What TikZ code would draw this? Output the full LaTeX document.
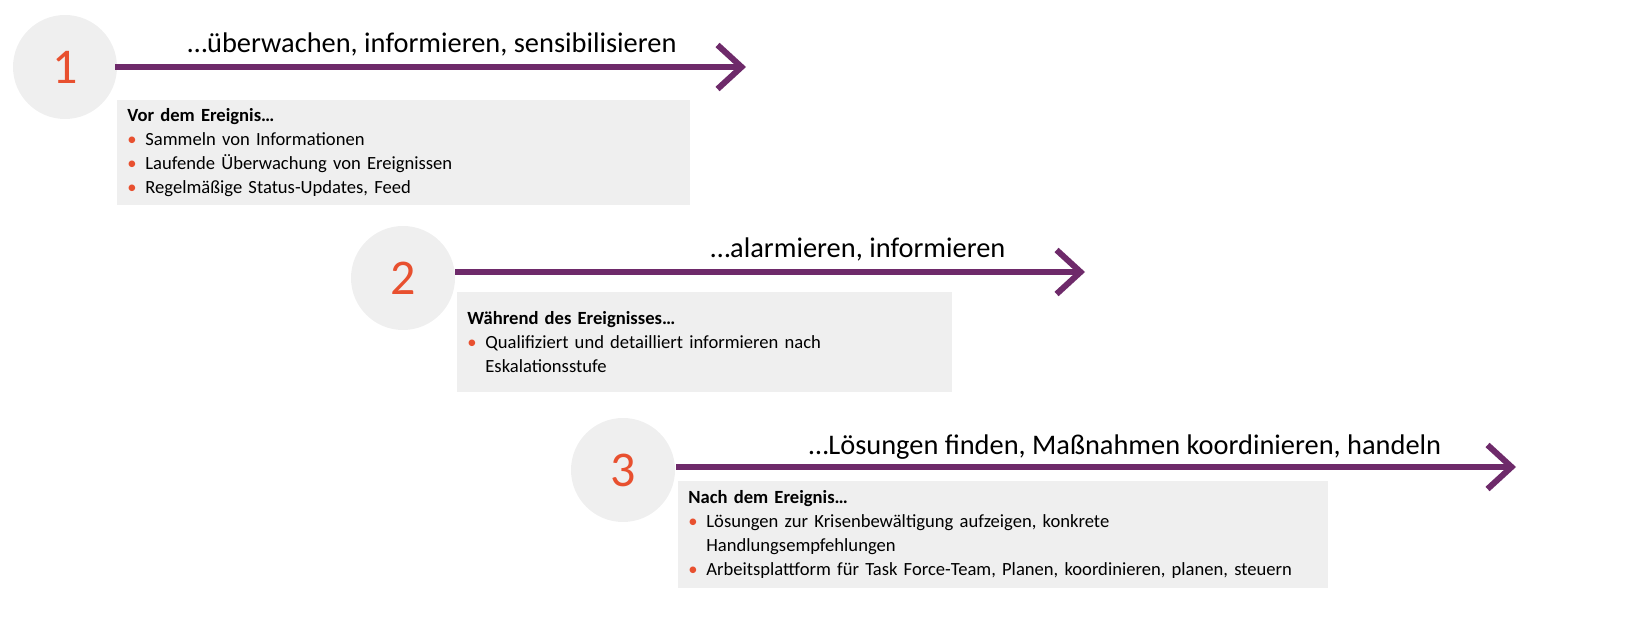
\documentclass[tikz,border=0pt]{standalone}
\usepackage{fontspec}
\setmainfont{Carlito}
\usetikzlibrary{arrows.meta,positioning}
\definecolor{stagepurple}{HTML}{6E2A6A}
\definecolor{stagered}{HTML}{E8502F}
\definecolor{stagegray}{HTML}{EFEFEF}
\newcommand{\bul}{\makebox[9pt][l]{\textcolor{stagered}{\textbullet}}}
\newcommand{\cont}{\hspace*{9pt}}
\tikzset{
  stagecircle/.style={circle, fill=stagegray, minimum size=52pt, inner sep=0pt,
    text=stagered, font=\fontsize{25}{25}\selectfont},
  stagearrow/.style={draw=stagepurple, line width=3pt,
    -{Straight Barb[length=12pt,width=22pt,line width=3pt]}},
  stagetitle/.style={font=\fontsize{14.2}{15}\selectfont, anchor=base},
  stagebox/.style={fill=stagegray, anchor=north west, inner xsep=5pt,
    inner ysep=4pt, font=\fontsize{9.3}{12}\selectfont}
}
\begin{document}
\begin{tikzpicture}[x=0.5pt,y=-0.5pt]
\useasboundingbox (0,0) rectangle (1635,635);
% stage 1
\node[stagecircle] (c1) at (65,67) {1};
\coordinate (e1) at (746,67);
\draw[stagearrow] (115,67) -- (e1);
\node[stagetitle] (t1) at (432,53) {…überwachen, informieren, sensibilisieren};
\node[stagebox, text width=276.5pt, minimum height=51pt] (b1) at (117,100)
  {\textbf{Vor dem Ereignis…}\\
   \bul Sammeln von Informationen\\
   \bul Laufende Überwachung von Ereignissen\\
   \bul Regelmäßige Status-Updates, Feed};
% stage 2
\node[stagecircle] (c2) at (403,278) {2};
\coordinate (e2) at (1085,272);
\draw[stagearrow] (455,272) -- (e2);
\node[stagetitle] (t2) at (858,258) {…alarmieren, informieren};
\node[stagebox, text width=237.5pt, minimum height=50pt, inner ysep=9pt] (b2) at (457,292)
  {\textbf{Während des Ereignisses…}\\
   \bul Qualifiziert und detailliert informieren nach\\
   \cont Eskalationsstufe};
% stage 3
\node[stagebox, text width=315pt, minimum height=53.5pt, inner ysep=2pt] (b3) at (678,481)
  {\textbf{Nach dem Ereignis…}\\
   \bul Lösungen zur Krisenbewältigung aufzeigen, konkrete\\
   \cont Handlungsempfehlungen\\
   \bul Arbeitsplattform für Task Force-Team, Planen, koordinieren, planen, steuern};
\node[stagecircle] (c3) at (623,470) {3};
\coordinate (e3) at (1516,467);
\draw[stagearrow] (676,467) -- (e3);
\node[stagetitle] (t3) at (1125,455) {…Lösungen finden, Maßnahmen koordinieren, handeln};
\end{tikzpicture}
\end{document}
